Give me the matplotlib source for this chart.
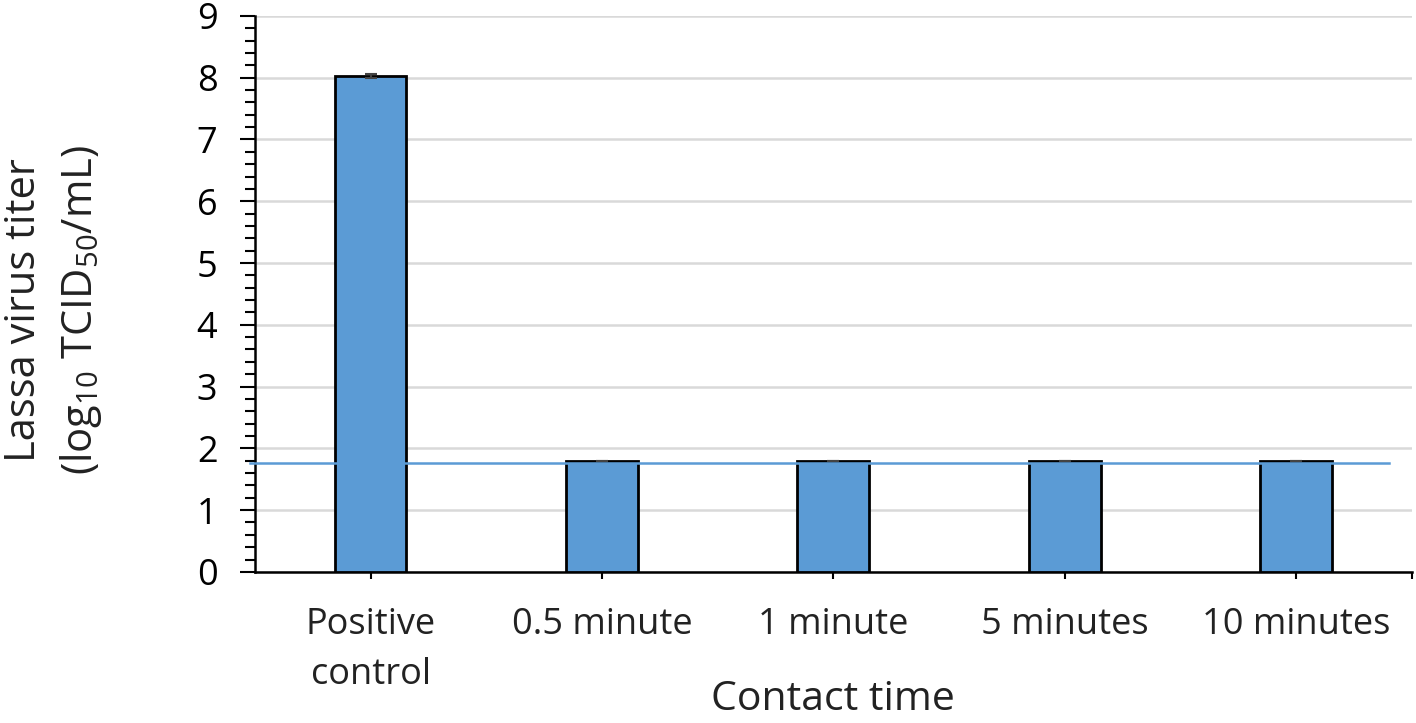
import numpy as np
import matplotlib
matplotlib.use("Agg")
import matplotlib.pyplot as plt
from matplotlib.ticker import MultipleLocator, FixedLocator

plt.rcParams['font.family'] = ['Open Sans', 'DejaVu Sans']
plt.rcParams['mathtext.default'] = 'regular'

# data
categories = ["Positive\ncontrol", "0.5 minute", "1 minute", "5 minutes", "10 minutes"]
titers = [8.03, 1.80, 1.80, 1.80, 1.80]
errors = [0.03, 0.0, 0.0, 0.0, 0.0]
detection_limit = 1.77

fig = plt.figure(figsize=(14.16, 7.23), dpi=100)
ax = fig.add_axes([0.180, 0.209, 0.817, 0.769])

x = np.arange(len(categories))
ax.bar(x, titers, width=0.31, color="#5B9BD5", edgecolor="black", linewidth=2, zorder=3,
       yerr=errors, error_kw=dict(ecolor="#444444", elinewidth=1.5, capsize=4, capthick=1.5))
ax.plot([-0.52, 4.4], [detection_limit, detection_limit], color="#5B9BD5", linewidth=1.8, zorder=4,
        clip_on=False)

ax.set_xlim(-0.5, 4.5)
ax.set_ylim(0, 9)
ax.set_xticks(x)
ax.set_xticklabels(categories, fontsize=26, linespacing=1.55, color="#222222")
ax.xaxis.set_minor_locator(FixedLocator([4.5]))
ax.tick_params(axis="x", which="major", direction="out", length=5, width=1.5, pad=20)
ax.tick_params(axis="x", which="minor", direction="out", length=5, width=1.5)
ax.yaxis.set_major_locator(MultipleLocator(1))
ax.yaxis.set_minor_locator(MultipleLocator(0.2))
ax.tick_params(axis="y", which="major", direction="out", length=11, width=1.5, labelsize=26, pad=16)
ax.tick_params(axis="y", which="minor", direction="out", length=7, width=1.5)

ax.grid(axis="y", color="#D9D9D9", linewidth=1.8, zorder=0)
ax.set_axisbelow(True)
for side in ["top", "right"]:
    ax.spines[side].set_visible(False)
for side in ["left", "bottom"]:
    ax.spines[side].set_linewidth(1.8)

fig.text(0.588, 1 - 710 / 723, "Contact time", fontsize=29.5, ha="center", va="baseline",
         color="#222222")
fig.text(0.017, 0.571, "Lassa virus titer", rotation=90, fontsize=30, ha="center", va="center",
         color="#222222")
fig.text(0.057, 0.571, r"(log$_{10}$ TCID$_{50}$/mL)", rotation=90, fontsize=30, ha="center",
         va="center", color="#222222")

fig.savefig("out.png", dpi=100)
